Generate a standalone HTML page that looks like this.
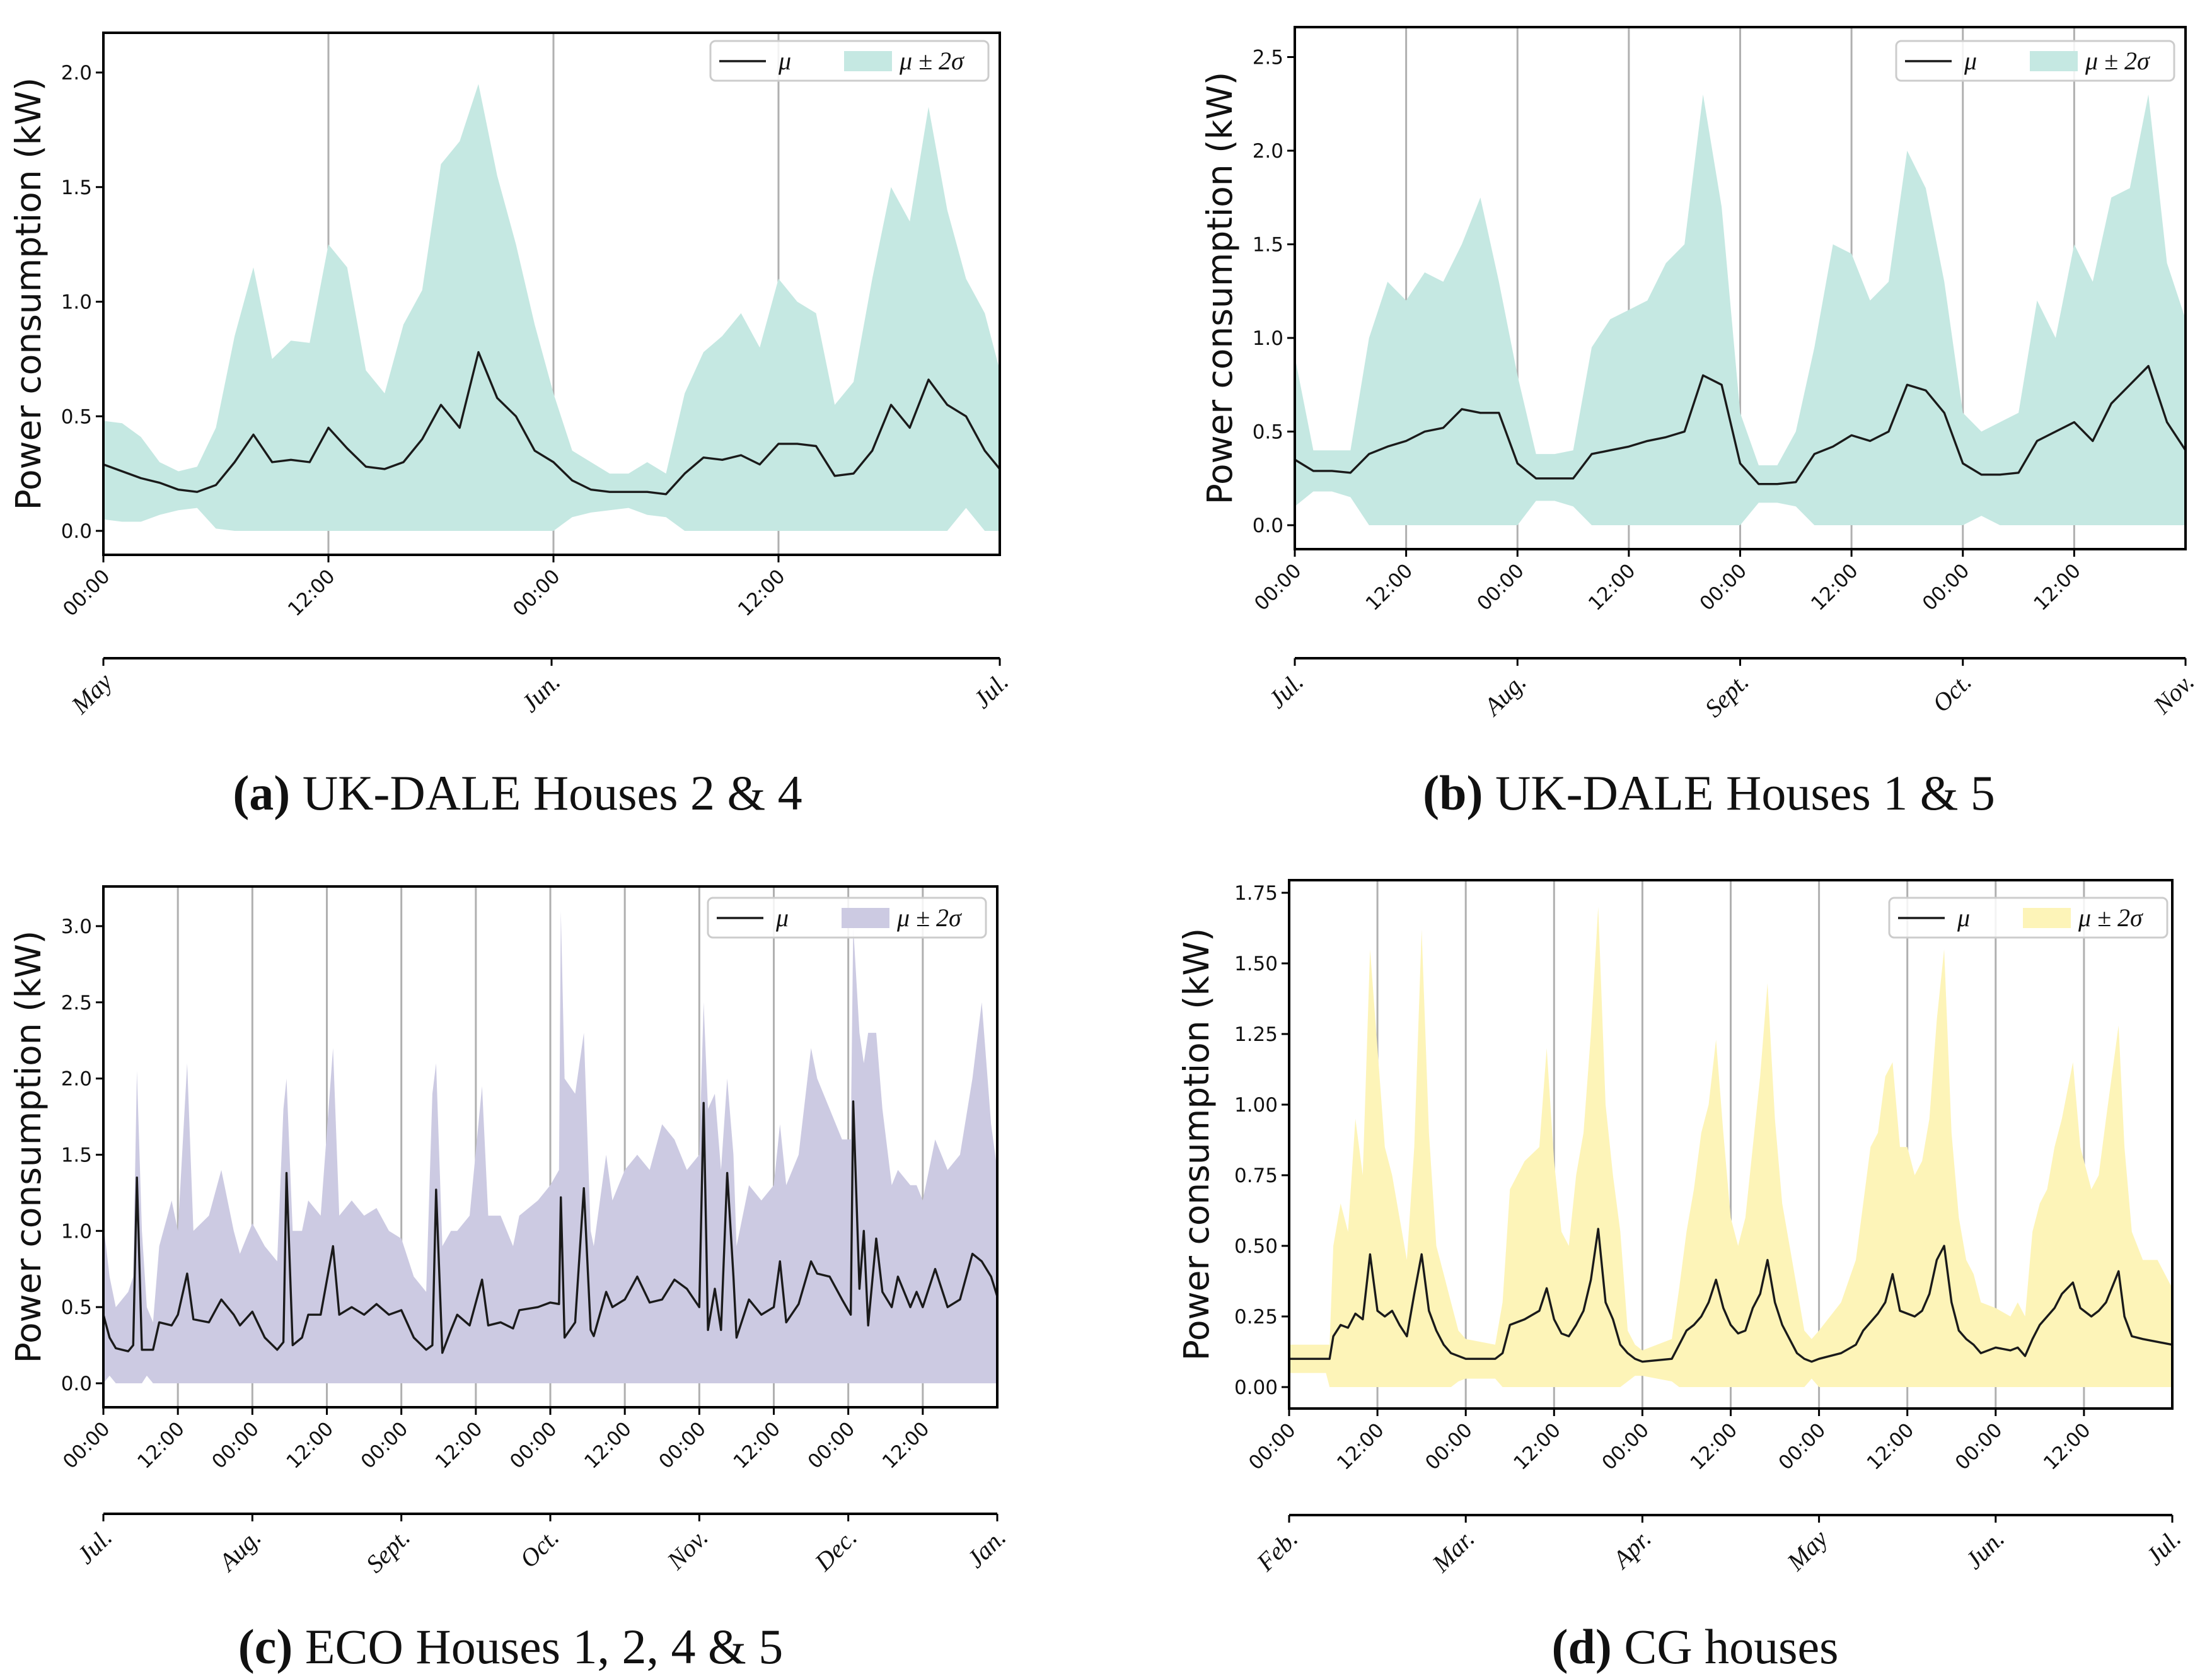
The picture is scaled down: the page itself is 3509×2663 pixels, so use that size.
<!DOCTYPE html>
<html><head><meta charset="utf-8">
<style>
html,body{margin:0;padding:0;background:#fff;}
svg{display:block;}
.tk{font-family:"DejaVu Sans","Liberation Sans",sans-serif;font-size:31px;fill:#111;}
.yl{font-family:"DejaVu Sans","Liberation Sans",sans-serif;font-size:55px;fill:#111;}
.mo{font-family:"Liberation Serif",serif;font-style:italic;font-size:40px;fill:#111;}
.cap{font-family:"Liberation Serif",serif;font-size:78px;fill:#111;}
.lg{font-family:"Liberation Serif",serif;font-style:italic;font-size:40px;fill:#111;}
</style></head>
<body>
<svg id="fig" width="3509" height="2663" viewBox="0 0 3509 2663" xmlns="http://www.w3.org/2000/svg"></svg>
<script>
// ---------- Panel (a) data: UK-DALE Houses 2 & 4 ----------
const hoursA=[0,1,2,3,4,5,6,7,8,9,10,11,12,13,14,15,16,17,18,19,20,21,22,23,24,25,26,27,28,29,30,31,32,33,34,35,36,37,38,39,40,41,42,43,44,45,46,47,47.8];
const muA=[0.29,0.26,0.23,0.21,0.18,0.17,0.20,0.30,0.42,0.30,0.31,0.30,0.45,0.36,0.28,0.27,0.30,0.40,0.55,0.45,0.78,0.58,0.50,0.35,0.30,0.22,0.18,0.17,0.17,0.17,0.16,0.25,0.32,0.31,0.33,0.29,0.38,0.38,0.37,0.24,0.25,0.35,0.55,0.45,0.66,0.55,0.50,0.35,0.27];
const upA=[0.48,0.47,0.41,0.30,0.26,0.28,0.45,0.85,1.15,0.75,0.83,0.82,1.25,1.15,0.70,0.60,0.90,1.05,1.60,1.70,1.95,1.55,1.25,0.90,0.60,0.35,0.30,0.25,0.25,0.30,0.25,0.60,0.78,0.85,0.95,0.80,1.10,1.00,0.95,0.55,0.65,1.10,1.50,1.35,1.85,1.40,1.10,0.95,0.70];
const loA=[0.05,0.04,0.04,0.07,0.09,0.10,0.01,0,0,0,0,0,0,0,0,0,0,0,0,0,0,0,0,0,0,0.06,0.08,0.09,0.10,0.07,0.06,0,0,0,0,0,0,0,0,0,0,0,0,0,0,0,0.1,0,0];
const ticksA=["00:00","12:00","00:00","12:00"];
const monthsA=["May","Jun.","Jul."];

// ---------- Panel (b) data: UK-DALE Houses 1 & 5 ----------
const hoursB=[0,2,4,6,8,10,12,14,16,18,20,22,24,26,28,30,32,34,36,38,40,42,44,46,48,50,52,54,56,58,60,62,64,66,68,70,72,74,76,78,80,82,84,86,88,90,92,94,96];
const muB=[0.35,0.29,0.29,0.28,0.38,0.42,0.45,0.5,0.52,0.62,0.6,0.6,0.33,0.25,0.25,0.25,0.38,0.4,0.42,0.45,0.47,0.5,0.8,0.75,0.33,0.22,0.22,0.23,0.38,0.42,0.48,0.45,0.5,0.75,0.72,0.6,0.33,0.27,0.27,0.28,0.45,0.5,0.55,0.45,0.65,0.75,0.85,0.55,0.4];
const upB=[0.9,0.4,0.4,0.4,1.0,1.3,1.2,1.35,1.3,1.5,1.75,1.3,0.8,0.38,0.38,0.4,0.95,1.1,1.15,1.2,1.4,1.5,2.3,1.7,0.6,0.32,0.32,0.5,0.95,1.5,1.45,1.2,1.3,2.0,1.8,1.3,0.6,0.5,0.55,0.6,1.2,1.0,1.5,1.3,1.75,1.8,2.3,1.4,1.1];
const loB=[0.1,0.18,0.18,0.15,0,0,0,0,0,0,0,0,0,0.13,0.13,0.1,0,0,0,0,0,0,0,0,0,0.12,0.12,0.1,0,0,0,0,0,0,0,0,0,0.05,0,0,0,0,0,0,0,0,0,0,0];
const ticksB=["00:00","12:00","00:00","12:00","00:00","12:00","00:00","12:00"];
const monthsB=["Jul.","Aug.","Sept.","Oct.","Nov."];

// ---------- Panel (c) data: ECO Houses 1, 2, 4 & 5 ----------
const hoursC=[0,1,2,4,4.8,5.4,6.2,7,8,9,11,12,13.5,14.5,17,19,21,22,24,26,28,29,29.5,30.5,32,33,35,37,38,40,42,44,46,48,50,52,53,53.6,54.6,56,57,59,61,62,64,66,67,70,72,73.4,73.7,74.3,76,77.4,78.5,79,81,82,84,86,88,90,92,94,96,96.7,97.4,98.5,99.5,100.5,101.5,102,104,106,108,109,110,112,114,115,117,119,120.4,120.8,121.8,122.5,123.2,124.5,125.5,127,128,130,131,132,134,136,138,140,141.5,143,144];
const muC=[0.45,0.3,0.23,0.21,0.25,1.35,0.22,0.22,0.22,0.4,0.38,0.45,0.72,0.42,0.4,0.55,0.45,0.38,0.47,0.3,0.22,0.27,1.38,0.25,0.3,0.45,0.45,0.9,0.45,0.5,0.45,0.52,0.45,0.48,0.3,0.22,0.25,1.27,0.2,0.35,0.45,0.38,0.68,0.38,0.4,0.36,0.48,0.5,0.53,0.52,1.22,0.3,0.4,1.28,0.35,0.31,0.6,0.5,0.55,0.7,0.53,0.55,0.68,0.62,0.5,1.84,0.35,0.62,0.35,1.38,0.7,0.3,0.55,0.45,0.5,0.8,0.4,0.52,0.8,0.72,0.7,0.55,0.45,1.85,0.62,1.0,0.38,0.95,0.6,0.5,0.7,0.5,0.6,0.5,0.75,0.5,0.55,0.85,0.8,0.7,0.57];
const upC=[1.05,0.7,0.5,0.6,0.7,2.05,1.0,0.5,0.4,0.9,1.2,1.0,2.1,1.0,1.1,1.4,1.0,0.85,1.05,0.9,0.8,1.8,2.0,1.0,1.0,1.2,1.1,2.2,1.1,1.2,1.1,1.15,1.0,0.95,0.7,0.6,1.9,2.1,0.9,1.0,1.0,1.1,1.95,1.1,1.1,0.9,1.1,1.2,1.3,1.4,3.1,2.0,1.9,2.3,1.0,0.9,1.5,1.2,1.4,1.5,1.4,1.7,1.6,1.4,1.5,2.5,1.8,1.9,1.4,2.0,1.5,0.9,1.3,1.2,1.3,1.7,1.3,1.5,2.2,2.0,1.8,1.6,1.6,3.0,2.3,2.1,2.3,2.3,1.8,1.3,1.4,1.3,1.3,1.2,1.6,1.4,1.5,2.0,2.5,1.7,1.4];
const loC=[0,0.05,0,0,0,0,0,0.05,0,0,0,0,0,0,0,0,0,0,0,0,0,0,0,0,0,0,0,0,0,0,0,0,0,0,0,0,0,0,0,0,0,0,0,0,0,0,0,0,0,0,0,0,0,0,0,0,0,0,0,0,0,0,0,0,0,0,0,0,0,0,0,0,0,0,0,0,0,0,0,0,0,0,0,0,0,0,0,0,0,0,0,0,0,0,0,0,0,0,0,0,0];
const ticksC=["00:00","12:00","00:00","12:00","00:00","12:00","00:00","12:00","00:00","12:00","00:00","12:00"];
const monthsC=["Jul.","Aug.","Sept.","Oct.","Nov.","Dec.","Jan."];

// ---------- Panel (d) data: CG houses ----------
const hoursD=[0,5,5.5,6,7,8,9,10,11,12,13,14,15,16,17,18,19,20,21,22,23,24,28,29,30,32,34,35,36,37,38,39,40,41,42,43,44,45,46,47,48,52,53,54,55,56,57,58,59,60,61,62,63,64,65,66,67,68,69,70,71,72,75,77,78,79,80,81,82,83,84,85,86,87,88,89,90,91,92,93,94,96,98,99,100,101,102,103,104,105,106.5,107.5,109,110,111,112.7,113.5,114.5,116,118,120];
const muD=[0.10,0.10,0.10,0.18,0.22,0.21,0.26,0.24,0.47,0.27,0.25,0.27,0.22,0.18,0.33,0.47,0.27,0.20,0.15,0.12,0.11,0.10,0.10,0.12,0.22,0.24,0.27,0.35,0.24,0.19,0.18,0.22,0.27,0.38,0.56,0.30,0.24,0.15,0.12,0.10,0.09,0.10,0.15,0.20,0.22,0.25,0.30,0.38,0.28,0.22,0.19,0.20,0.28,0.33,0.45,0.30,0.22,0.17,0.12,0.10,0.09,0.10,0.12,0.15,0.20,0.23,0.26,0.30,0.40,0.27,0.26,0.25,0.27,0.33,0.45,0.50,0.30,0.20,0.17,0.15,0.12,0.14,0.13,0.14,0.11,0.17,0.22,0.25,0.28,0.33,0.37,0.28,0.25,0.27,0.30,0.41,0.25,0.18,0.17,0.16,0.15];
const upD=[0.15,0.15,0.15,0.50,0.65,0.55,0.95,0.75,1.55,1.20,0.85,0.75,0.60,0.45,0.85,1.62,0.90,0.50,0.40,0.30,0.20,0.17,0.15,0.30,0.70,0.80,0.85,1.20,0.80,0.55,0.50,0.75,0.90,1.25,1.70,1.00,0.75,0.55,0.20,0.15,0.13,0.17,0.35,0.55,0.70,0.90,1.00,1.23,0.90,0.60,0.50,0.60,0.85,1.10,1.43,0.95,0.65,0.50,0.35,0.20,0.17,0.20,0.30,0.45,0.65,0.85,0.90,1.10,1.15,0.85,0.85,0.75,0.80,0.95,1.30,1.55,0.90,0.60,0.45,0.40,0.30,0.28,0.25,0.30,0.25,0.55,0.65,0.70,0.85,0.95,1.15,0.85,0.70,0.75,0.95,1.28,0.85,0.55,0.45,0.45,0.35];
const loD=[0.05,0.05,0,0,0,0,0,0,0,0,0,0,0,0,0,0,0,0,0,0,0.02,0.03,0.03,0,0,0,0,0,0,0,0,0,0,0,0,0,0,0,0.02,0.04,0.04,0.02,0,0,0,0,0,0,0,0,0,0,0,0,0,0,0,0,0,0,0.03,0,0,0,0,0,0,0,0,0,0,0,0,0,0,0,0,0,0,0,0,0,0,0,0,0,0,0,0,0,0,0,0,0,0,0,0,0,0,0,0];
const ticksD=["00:00","12:00","00:00","12:00","00:00","12:00","00:00","12:00","00:00","12:00"];
const monthsD=["Feb.","Mar.","Apr.","May","Jun.","Jul."];

const NS="http://www.w3.org/2000/svg";
const fig=document.getElementById('fig');
function mk(tag,attrs,parent){const e=document.createElementNS(NS,tag);for(const k in attrs)e.setAttribute(k,attrs[k]);(parent||fig).appendChild(e);return e;}

function panel(p){
  const g=mk('g',{});
  
  
  const xS=h=>p.L+(h-0)/p.xMax*(p.R-p.L);
  const yS=v=>p.y0+(-v)*p.ppu;
  p.ticks.forEach((t,i)=>{
    if(i===0)return;
    const gl=mk('line',{x1:xS(i*12),x2:xS(i*12),y1:p.T,y2:p.B,stroke:'#b0b0b0','stroke-width':3},g);
    
    
  });
  let d='';
  p.hours.forEach((h,i)=>{d+=(i?'L':'M')+xS(h).toFixed(1)+','+yS(p.up[i]).toFixed(1);});
  for(let i=p.hours.length-1;i>=0;i--){d+='L'+xS(p.hours[i]).toFixed(1)+','+yS(p.lo[i]).toFixed(1);}
  const band=mk('path',{d:d+'Z',fill:p.fill,stroke:'none'},g);
  
  
  let m='';
  p.hours.forEach((h,i)=>{m+=(i?'L':'M')+xS(h).toFixed(1)+','+yS(p.mu[i]).toFixed(1);});
  const ln=mk('path',{d:m,fill:'none',stroke:'#1a1a1a','stroke-width':3.4,'stroke-linejoin':'round'},g);
  
  
  const fr=mk('rect',{x:p.L,y:p.T,width:p.R-p.L,height:p.B-p.T,fill:'none',stroke:'#000','stroke-width':4},g);
  
  
  p.yt.forEach(v=>{
    const y=yS(v);
    mk('line',{x1:p.L-12,x2:p.L,y1:y,y2:y,stroke:'#000','stroke-width':3},g);
    const t=mk('text',{x:p.L-18,y:y+11,'text-anchor':'end',class:'tk'},g);
    t.textContent=v.toFixed(p.dec);
    
    
  });
  p.ticks.forEach((lab,i)=>{
    const x=xS(i*12);
    mk('line',{x1:x,x2:x,y1:p.B,y2:p.B+12,stroke:'#000','stroke-width':3},g);
    const t=mk('text',{x:x+12,y:p.B+36,'text-anchor':'end',class:'tk',transform:`rotate(-45 ${x+12} ${p.B+36})`},g);
    t.textContent=lab;
    
    
  });
  const cy=(p.T+p.B)/2;
  const yx=p.L-p.yo;
  const yl=mk('text',{x:yx,y:cy,'text-anchor':'middle',class:'yl',transform:`rotate(-90 ${yx} ${cy})`},g);
  yl.textContent='Power consumption (kW)';
  
  
  const sa=mk('line',{x1:p.L,x2:p.R,y1:p.S,y2:p.S,stroke:'#000','stroke-width':4},g);
  
  
  const n=p.months.length-1;
  p.months.forEach((mo,i)=>{
    const x=p.L+i/n*(p.R-p.L);
    mk('line',{x1:x,x2:x,y1:p.S,y2:p.S+12,stroke:'#000','stroke-width':3},g);
    const t=mk('text',{x:x+16,y:p.S+40,'text-anchor':'end',class:'mo',transform:`rotate(-45 ${x+16} ${p.S+40})`},g);
    t.textContent=mo;
    
    
  });
  const lg=mk('g',{},g);
  
  
  mk('rect',{x:p.lx,y:p.ly,width:441,height:63,rx:8,fill:'#fff','fill-opacity':0.85,stroke:'#cccccc','stroke-width':3},lg);
  mk('line',{x1:p.lx+14,x2:p.lx+88,y1:p.ly+32,y2:p.ly+32,stroke:'#1a1a1a','stroke-width':3.5},lg);
  const t1=mk('text',{x:p.lx+108,y:p.ly+45,class:'lg'},lg);t1.textContent='μ';
  
  
  mk('rect',{x:p.lx+212,y:p.ly+16,width:76,height:32,fill:p.fill},lg);
  const t2=mk('text',{x:p.lx+300,y:p.ly+45,class:'lg'},lg);t2.textContent='μ ± 2σ';
  
  
  const c=mk('text',{x:p.cx,y:p.cy,'text-anchor':'middle',class:'cap'},g);
  
  
  const b=mk('tspan',{'font-weight':'bold'},c);b.textContent=p.capB;
  const r=mk('tspan',{},c);r.textContent=' '+p.cap;
}

panel({id:'a',hours:hoursA,mu:muA,up:upA,lo:loA,ticks:ticksA,months:monthsA,L:164,R:1586,T:52,B:880,y0:842,ppu:363.5,xMax:47.8,yt:[0,0.5,1,1.5,2],dec:1,yo:100,S:1044,fill:'#c5e8e2',lx:1127,ly:65,cx:821,cy:1284,capB:'(a)',cap:'UK-DALE Houses 2 & 4'});
panel({id:'b',hours:hoursB,mu:muB,up:upB,lo:loB,ticks:ticksB,months:monthsB,L:2054,R:3467,T:43,B:871,y0:833,ppu:297,xMax:96,yt:[0,0.5,1,1.5,2,2.5],dec:1,yo:100,S:1044,fill:'#c5e8e2',lx:3008,ly:65,cx:2711,cy:1284,capB:'(b)',cap:'UK-DALE Houses 1 & 5'});
panel({id:'c',hours:hoursC,mu:muC,up:upC,lo:loC,ticks:ticksC,months:monthsC,L:164,R:1582,T:1406,B:2232,y0:2194,ppu:241.7,xMax:144,yt:[0,0.5,1,1.5,2,2.5,3],dec:1,yo:100,S:2401,fill:'#cccae2',lx:1123,ly:1424,cx:810,cy:2638,capB:'(c)',cap:'ECO Houses 1, 2, 4 & 5'});
panel({id:'d',hours:hoursD,mu:muD,up:upD,lo:loD,ticks:ticksD,months:monthsD,L:2045,R:3446,T:1396,B:2234,y0:2200,ppu:448,xMax:120,yt:[0,0.25,0.5,0.75,1,1.25,1.5,1.75],dec:2,yo:128,S:2403,fill:'#fdf4b8',lx:2997,ly:1424,cx:2689,cy:2638,capB:'(d)',cap:'CG houses'});
</script>
</body></html>
